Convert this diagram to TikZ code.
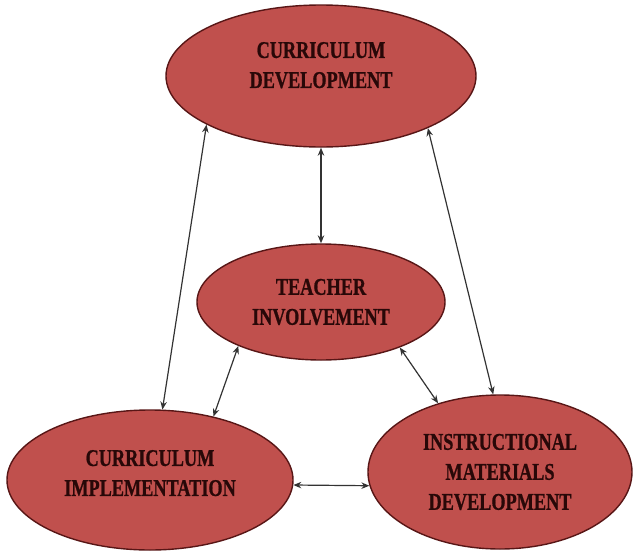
\documentclass[tikz,border=0pt]{standalone}
\usepackage{fontspec}
\usetikzlibrary{shapes.geometric,arrows.meta}
\newfontfamily\boxfont[FakeStretch=0.76,FakeBold=0.8]{Liberation Serif}
\definecolor{fillred}{RGB}{192,80,77}
\definecolor{rimred}{RGB}{88,22,22}
\definecolor{inkred}{RGB}{40,8,8}
\tikzset{
  stage/.style={ellipse, draw=rimred, line width=1.4pt, fill=fillred,
    inner sep=0pt, align=center, text=inkred,
    font=\boxfont\bfseries\fontsize{24}{30}\selectfont},
  link/.style={{Stealth[length=8pt,width=6.5pt]}-{Stealth[length=8pt,width=6.5pt]},
    line width=1.2pt, draw=black!80}
}
\begin{document}
\begin{tikzpicture}[x=1pt,y=-1pt]

  \useasboundingbox (0,0) rectangle (635,552);

  % Layout the stages
  \node[stage, minimum width=310pt, minimum height=142pt] (cd)  at (321,76)
    {CURRICULUM\\DEVELOPMENT\\[-8pt]}; %
  \node[stage, minimum width=248pt, minimum height=116pt] (ti)  at (321,302)
    {TEACHER\\INVOLVEMENT}; %
  \node[stage, minimum width=286pt, minimum height=140pt] (ci)  at (150,480)
    {CURRICULUM\\IMPLEMENTATION\\[-16pt]}; %
  \node[stage, minimum width=264pt, minimum height=154pt] (imd) at (500,472)
    {INSTRUCTIONAL\\MATERIALS\\DEVELOPMENT}; %

  % Links
  \draw[link] (cd.south) -- (ti.north); %
  \draw[link] (cd.203)   -- (ci.80); %
  \draw[link] (cd.334)   -- (imd.95); %
  \draw[link] (ti.208)   -- (ci.45); %
  \draw[link] (ti.330)   -- (imd.132); %
  \draw[link] (ci.358)   -- (imd.186); %

\end{tikzpicture}
\end{document}
